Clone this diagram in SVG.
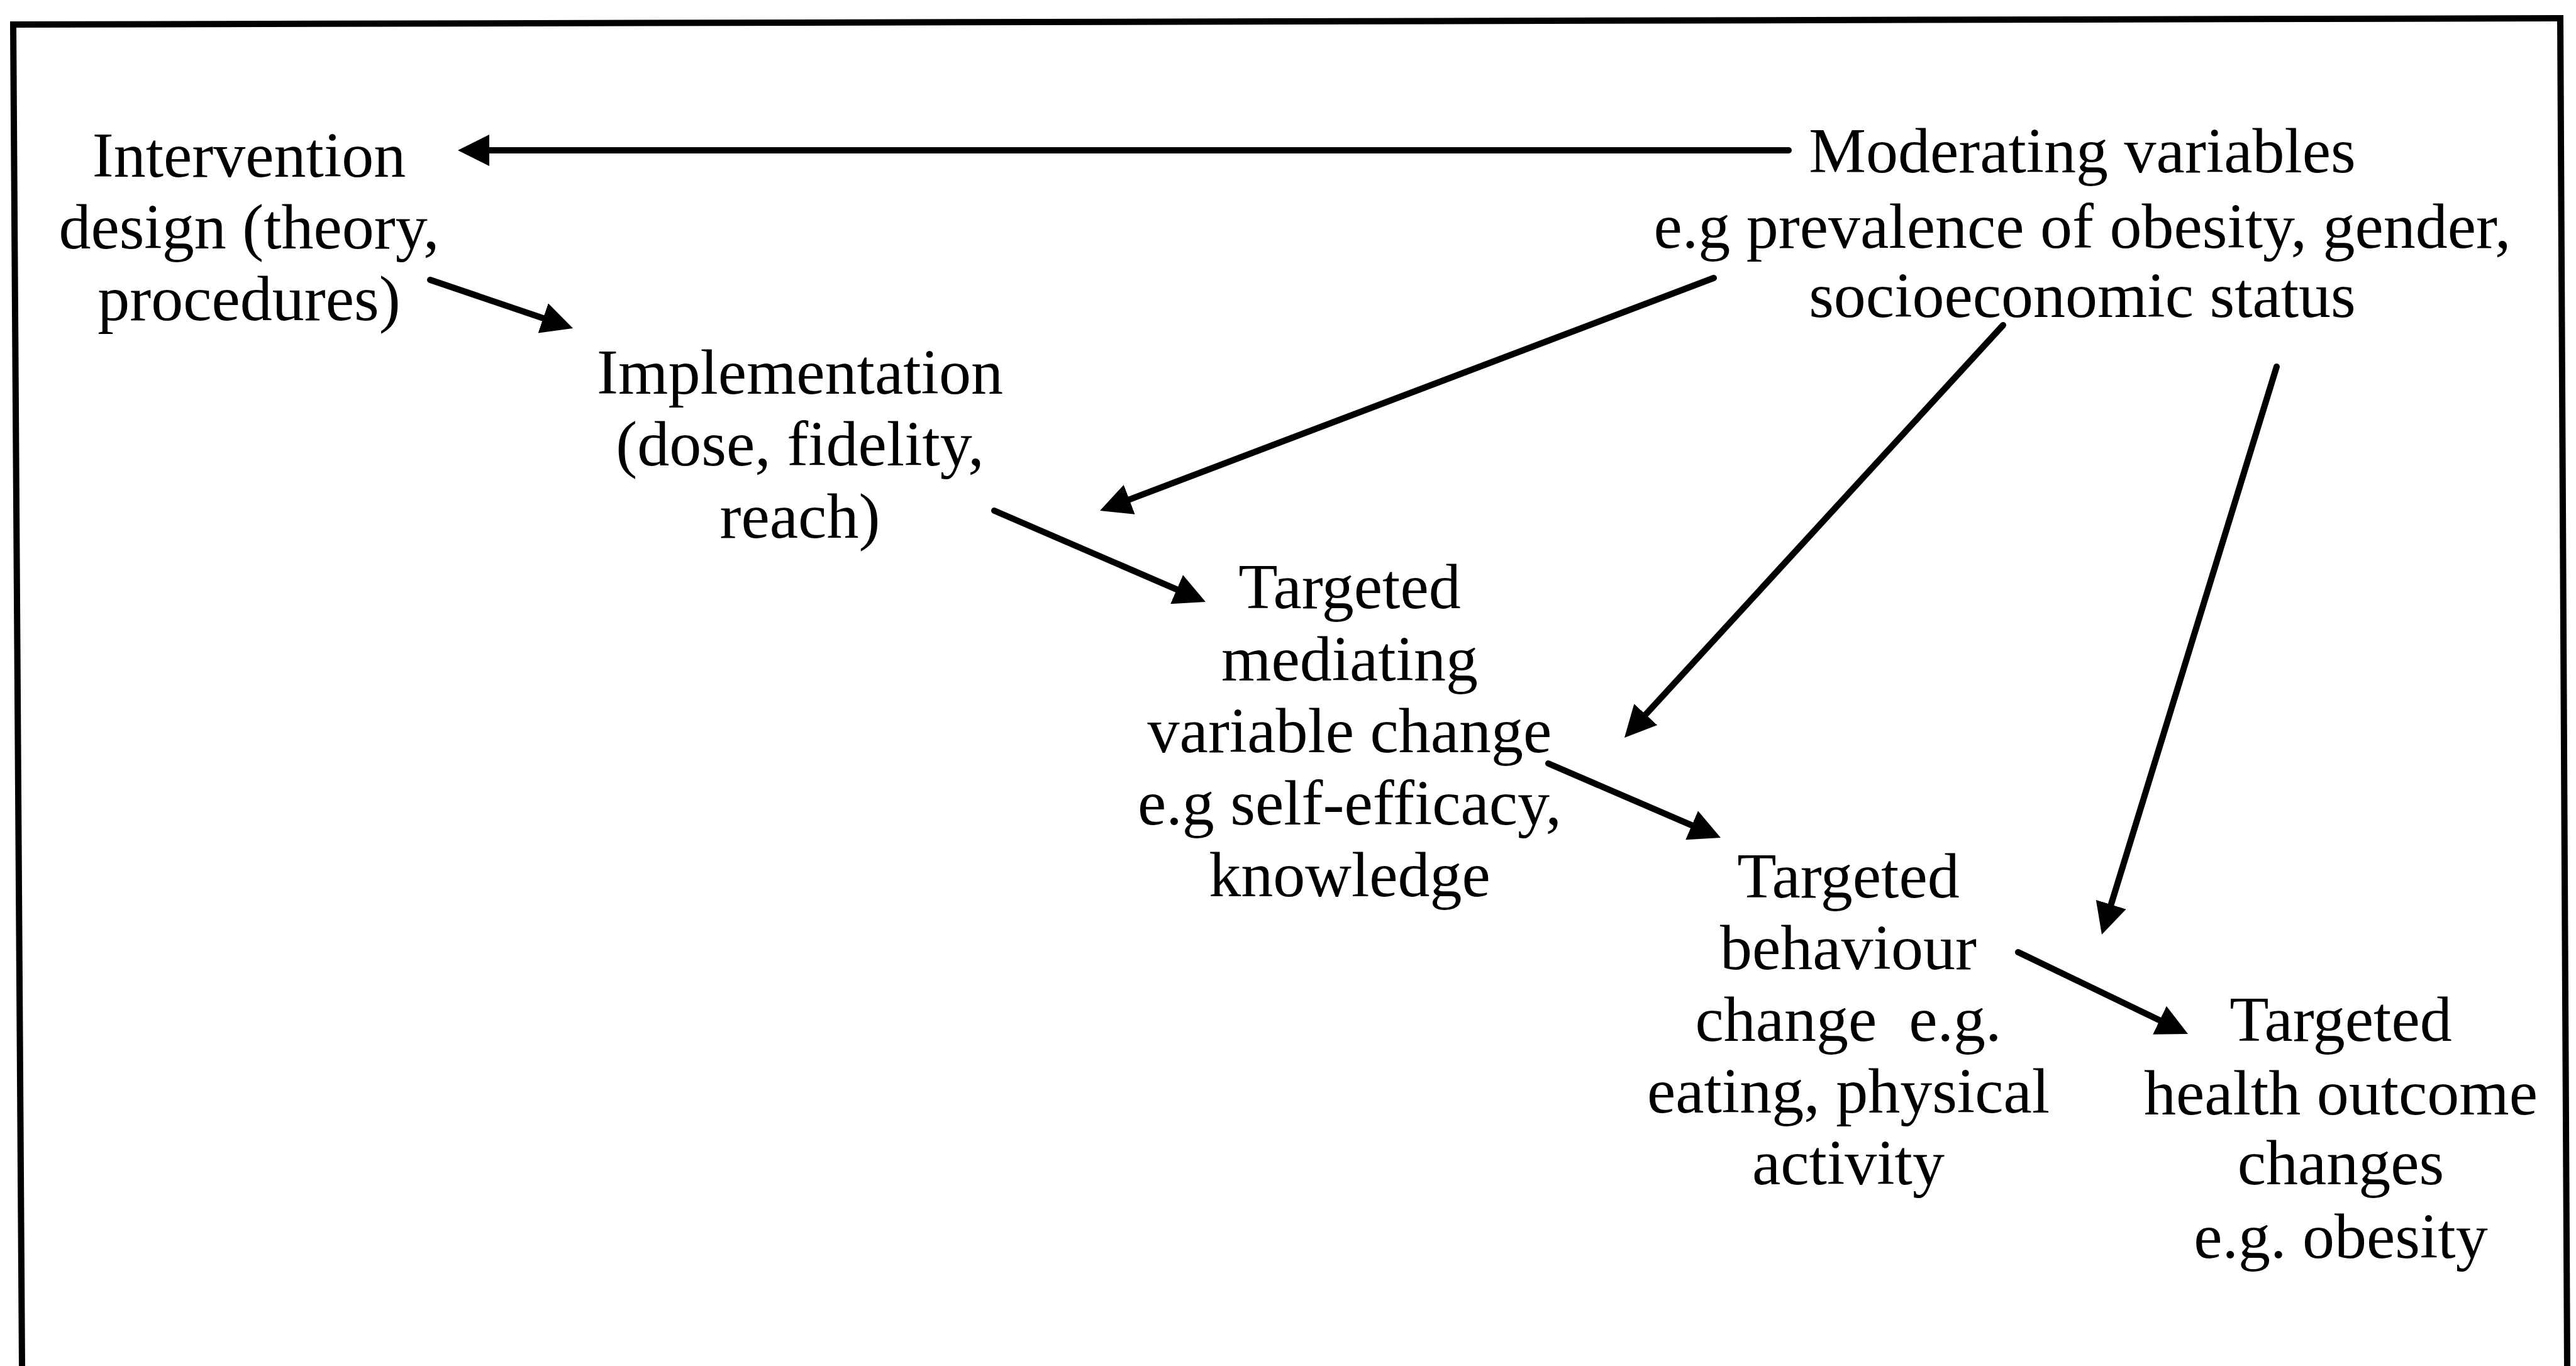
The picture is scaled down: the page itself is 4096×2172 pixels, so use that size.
<svg xmlns="http://www.w3.org/2000/svg" width="4096" height="2172" viewBox="0 0 4096 2172">
<style>
.t{font-family:"Liberation Serif","Times New Roman",serif;font-size:102px;fill:#000;text-anchor:middle}
.c{fill:none;stroke:#000;stroke-width:10;stroke-linecap:round}
.frame{fill:none;stroke:#000;stroke-width:10;stroke-linejoin:miter}
</style>
<defs>
<marker id="ah" viewBox="0 0 50 50" refX="35" refY="25" markerWidth="50" markerHeight="50" markerUnits="userSpaceOnUse" orient="auto">
<path d="M0,0 L50,25 L0,50 Z" fill="#000"/>
</marker>
</defs>
<rect width="4096" height="2172" fill="#fff"/>
<path class="frame" d="M35,2172 L21,39 L4071,29 L4082,2172"/>
<g id="intervention">
<text class="t" x="396" y="281">Intervention</text>
<text class="t" x="396" y="395">design (theory,</text>
<text class="t" x="396" y="509">procedures)</text>
</g>
<g id="moderating">
<text class="t" x="3311" y="274">Moderating variables</text>
<text class="t" x="3311" y="394">e.g prevalence of obesity, gender,</text>
<text class="t" x="3311" y="504">socioeconomic status</text>
</g>
<g id="implementation">
<text class="t" x="1272" y="626">Implementation</text>
<text class="t" x="1272" y="740">(dose, fidelity,</text>
<text class="t" x="1272" y="855">reach)</text>
</g>
<g id="mediating">
<text class="t" x="2146" y="967">Targeted</text>
<text class="t" x="2146" y="1082">mediating</text>
<text class="t" x="2146" y="1196">variable change</text>
<text class="t" x="2146" y="1311">e.g self-efficacy,</text>
<text class="t" x="2146" y="1425">knowledge</text>
</g>
<g id="behaviour">
<text class="t" x="2939" y="1427">Targeted</text>
<text class="t" x="2939" y="1541">behaviour</text>
<text class="t" x="2939" y="1655" xml:space="preserve">change  e.g.</text>
<text class="t" x="2939" y="1769">eating, physical</text>
<text class="t" x="2939" y="1883">activity</text>
</g>
<g id="health">
<text class="t" x="3722" y="1655">Targeted</text>
<text class="t" x="3722" y="1772">health outcome</text>
<text class="t" x="3722" y="1883">changes</text>
<text class="t" x="3722" y="2000">e.g. obesity</text>
</g>
<g id="connectors">
<path class="c" d="M2844,239 L743,239" marker-end="url(#ah)"/>
<path class="c" d="M684,445 L896.8,517.2" marker-end="url(#ah)"/>
<path class="c" d="M2725,442 L1763,806.7" marker-end="url(#ah)"/>
<path class="c" d="M1581,812 L1903.2,951.1" marker-end="url(#ah)"/>
<path class="c" d="M3185,517 L2593.1,1161.9" marker-end="url(#ah)"/>
<path class="c" d="M3620,583 L3346.4,1471.7" marker-end="url(#ah)"/>
<path class="c" d="M2462,1214 L2722.2,1326.1" marker-end="url(#ah)"/>
<path class="c" d="M3209,1514 L3465.5,1637.5" marker-end="url(#ah)"/>
</g>
</svg>
